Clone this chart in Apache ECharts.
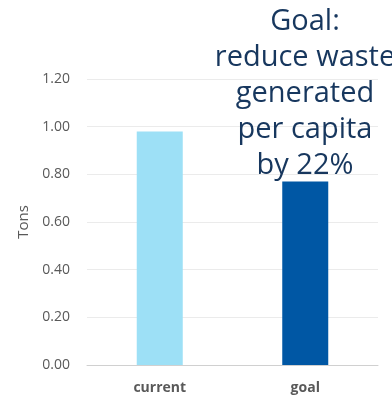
<!DOCTYPE html>
<html>
<head>
<meta charset="utf-8">
<script src="https://cdn.jsdelivr.net/npm/echarts@6/dist/echarts.min.js"></script>
<style>
  html, body { margin: 0; padding: 0; background: #fff; }
  #chart { width: 392px; height: 401px; }
</style>
</head>
<body>
<div id="chart"></div>
<script>
// Waste generated per capita (tons)
const categories = ['current', 'goal'];
const tons = [0.98, 0.77];
const barColors = ['#9DE0F6', '#0057A4'];
const goalLines = ['Goal:', 'reduce waste', 'generated', 'per capita', 'by 22%'];

const chart = echarts.init(document.getElementById('chart'), null, { renderer: 'canvas' });

chart.setOption({
  animation: false,
  grid: { left: 87, right: 14, top: 79, bottom: 36, containLabel: false },
  xAxis: {
    type: 'category',
    data: categories,
    axisLine: { show: true, lineStyle: { color: '#D0D0D0', width: 1 } },
    axisTick: { show: false },
    axisLabel: {
      color: '#595959', fontSize: 14, fontWeight: 'bold',
      fontFamily: 'Open Sans', margin: 16
    }
  },
  yAxis: {
    type: 'value',
    min: 0, max: 1.2, interval: 0.2,
    name: 'Tons',
    nameLocation: 'middle',
    nameGap: 52,
    nameRotate: 90,
    nameTextStyle: { color: '#595959', fontSize: 15, fontFamily: 'Open Sans' },
    axisLine: { show: false },
    axisTick: { show: false },
    splitLine: { lineStyle: { color: '#EBEBEB', width: 1 } },
    axisLabel: {
      color: '#595959', fontSize: 14, fontFamily: 'Open Sans', margin: 17,
      formatter: v => v.toFixed(2)
    }
  },
  series: [{
    type: 'bar',
    barWidth: 46,
    data: tons.map((v, i) => ({ value: v, itemStyle: { color: barColors[i] } }))
  }],
  graphic: [{
    type: 'text',
    x: 305,
    y: 4,
    z: 100,
    style: {
      text: goalLines.join('\n'),
      fill: '#17375E',
      font: '29px "Open Sans"',
      lineHeight: 36,
      align: 'center',
      verticalAlign: 'top'
    }
  }]
});
</script>
</body>
</html>
